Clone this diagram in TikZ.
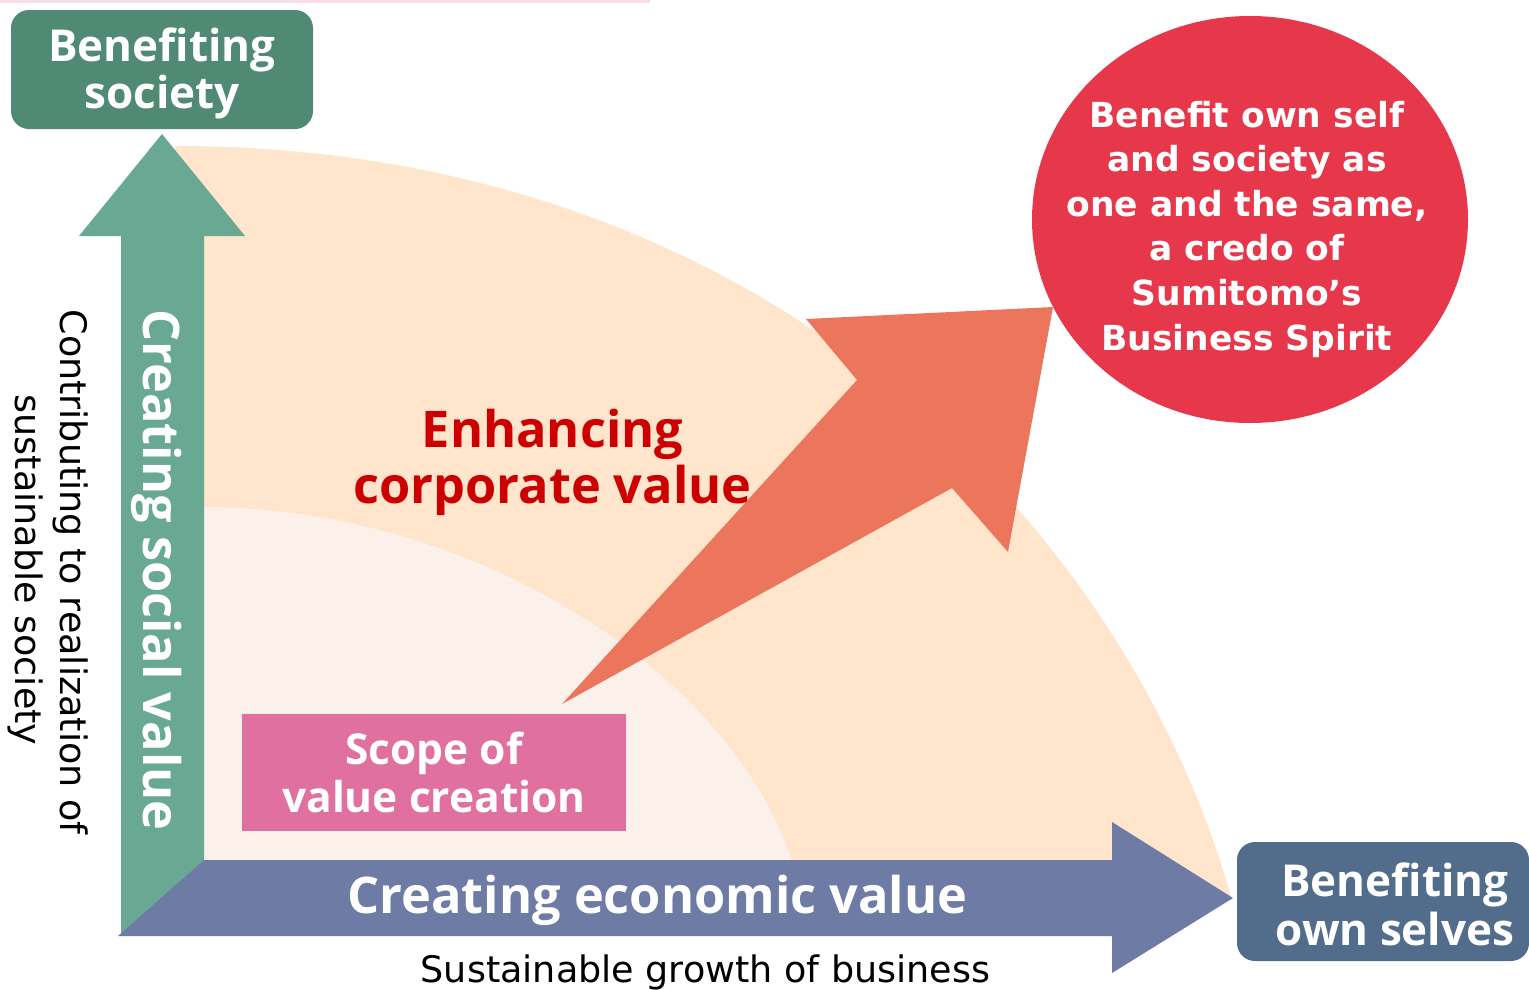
\documentclass[tikz,border=0pt]{standalone}
\usepackage{fontspec}
\setmainfont{DejaVu Sans}
\newfontfamily\osfont{Open Sans}
\usetikzlibrary{shapes.geometric}
\definecolor{peach}{HTML}{FEE5CB}
\definecolor{innerpink}{HTML}{FCF0EA}
\definecolor{greenarrow}{HTML}{69A892}
\definecolor{greenbox}{HTML}{508A74}
\definecolor{bluearrow}{HTML}{6D7BA5}
\definecolor{bluebox}{HTML}{526C8C}
\definecolor{pinkbox}{HTML}{E070A0}
\definecolor{orangearrow}{HTML}{EC765B}
\definecolor{redcircle}{HTML}{E6374B}
\definecolor{redtext}{HTML}{CC0000}
\definecolor{topline}{HTML}{F9DDE8}
\begin{document}
\begin{tikzpicture}[x=1pt,y=-1pt,
  lbl/.style={inner sep=0pt, anchor=base},
  boxtxt/.style={lbl, text=white, font=\osfont\bfseries\fontsize{44}{50}\selectfont},
  bigtxt/.style={lbl, font=\osfont\bfseries\fontsize{50.5}{58}\selectfont},
  scopetxt/.style={lbl, text=white, font=\osfont\bfseries\fontsize{42.5}{48}\selectfont},
  credotxt/.style={lbl, text=white, font=\bfseries\fontsize{34.5}{44.6}\selectfont},
  plaintxt/.style={lbl, text=black, font=\fontsize{36.5}{44}\selectfont},
  roundbox/.style={rounded corners=18pt, inner sep=0pt}]
\useasboundingbox (0,0) rectangle (1529,989);
% thin line at the top
\fill[topline] (0,0) rectangle (650,3);
% outer region
\fill[peach] (175,146) .. controls (760,146) and (1125,520) .. (1232,900) -- (180,900) -- cycle;
% inner region
\fill[innerpink] (204,507) .. controls (470,507) and (735,670) .. (795,870) -- (204,870) -- cycle;
% scope box
\node[fill=pinkbox, minimum width=384pt, minimum height=117pt, inner sep=0pt] (scope) at (434,772.5) {};
% orange arrow
\fill[orangearrow] (562,704) -- (857,380) -- (806,319) -- (1053,307) -- (1008,552) -- (952,488) -- cycle;
% vertical arrow
\fill[greenarrow] (121,936) -- (121,236) -- (79,236) -- (162,134) -- (245,236) -- (204,236) -- (204,860) -- cycle;
% horizontal arrow
\fill[bluearrow] (118,936) -- (204,860) -- (1112,860) -- (1112,822) -- (1233,898) -- (1112,973) -- (1112,936) -- cycle;
% boxes
\node[roundbox, fill=greenbox, minimum width=302pt, minimum height=119pt] (society) at (162,69.5) {};
\node[roundbox, fill=bluebox, minimum width=292pt, minimum height=119pt] (selves) at (1383,901.5) {};
\node[ellipse, fill=redcircle, minimum width=436pt, minimum height=407pt, inner sep=0pt] (credo) at (1250,219.5) {};
% texts
\node[boxtxt] (s1) at (162,61) {Benefiting};
\node[boxtxt] (s2) at (162,108) {society};
\node[boxtxt] (o1) at (1395,896) {Benefiting};
\node[boxtxt] (o2) at (1395,945) {own selves};
\node[bigtxt, text=redtext] (e1) at (552.5,447) {Enhancing};
\node[bigtxt, text=redtext] (e2) at (552.5,503) {corporate value};
\node[scopetxt] (v1) at (434,764) {Scope of};
\node[scopetxt] (v2) at (434,812) {value creation};
\node[bigtxt, text=white] (econ) at (657.5,913) {Creating economic value};
\node[bigtxt, text=white, rotate=-90] (social) at (143,570) {Creating social value};
\node[plaintxt] (growth) at (705.5,982) {Sustainable growth of business};
\node[plaintxt, rotate=-90] (c1) at (60,572) {Contributing to realization of};
\node[plaintxt, rotate=-90] (c2) at (16,570) {sustainable society};
\node[credotxt] (t1) at (1247,127) {Benefit own self};
\node[credotxt] (t2) at (1247,171.6) {and society as};
\node[credotxt] (t3) at (1247,216.2) {one and the same,};
\node[credotxt] (t4) at (1247,260.8) {a credo of};
\node[credotxt] (t5) at (1247,305.4) {Sumitomo’s};
\node[credotxt] (t6) at (1247,350) {Business Spirit};
\end{tikzpicture}
\end{document}
